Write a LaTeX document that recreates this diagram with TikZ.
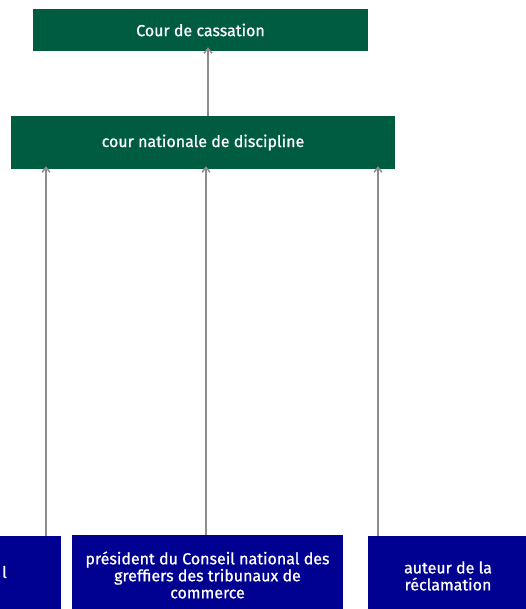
\documentclass[tikz,border=0pt]{standalone}
\usepackage{fontspec}
\setmainfont{Fira Sans}[FakeBold=0.8]
\usetikzlibrary{arrows.meta}
\definecolor{vertfonce}{HTML}{005C41}
\definecolor{bleufr}{HTML}{000091}
\begin{document}
\begin{tikzpicture}[x=1pt, y=-1pt]
        \tikzstyle{juridiction} = [fill = vertfonce, text = white, inner sep = 0pt, font = \fontsize{16}{17}\selectfont] 
        \tikzstyle{requerant} = [fill = bleufr, text = white, inner sep = 0pt, align = center, font = \fontsize{16}{17}\selectfont] 
        \tikzstyle{recours} = [draw = gray!90, line width = 1.4pt, -{Straight Barb[length = 5pt, width = 8pt]}] 
        \useasboundingbox (0, 0) rectangle (526, 609); 
        \clip (0, 0) rectangle (526, 609); 
        \node[juridiction, minimum width = 335pt, minimum height = 42pt] (cass) at (200.5, 30) {Cour de cassation}; 
        \node[juridiction, minimum width = 384pt, minimum height = 53pt] (cnd) at (203, 142.5) {cour nationale de discipline}; 
        \node[requerant, minimum width = 120pt, minimum height = 80pt] (auteur1) at (1, 576) {}; 
        \node[requerant, minimum width = 271pt, minimum height = 80pt] (president) at (207.5, 575) {président du Conseil national des\\greffiers des tribunaux de\\commerce}; 
        \node[requerant, minimum width = 160pt, minimum height = 80pt] (auteur) at (448, 576) {auteur de la\\réclamation}; 
        \node[text = white, inner sep = 0pt, font = \fontsize{16}{17}\selectfont, anchor = east] (coupe) at (7, 572) {l}; 
        \draw[recours] (cnd.north -| 208, 0) -- ([yshift = 4pt] cass.south -| 208, 0); 
        \draw[recours] (auteur1.north -| 46, 0) -- ([yshift = 3pt] cnd.south -| 46, 0); 
        \draw[recours] (president.north -| 206, 0) -- ([yshift = 3pt] cnd.south -| 206, 0); 
        \draw[recours] (auteur.north -| 378, 0) -- ([yshift = 3pt] cnd.south -| 378, 0); 
      \end{tikzpicture}
\end{document}
